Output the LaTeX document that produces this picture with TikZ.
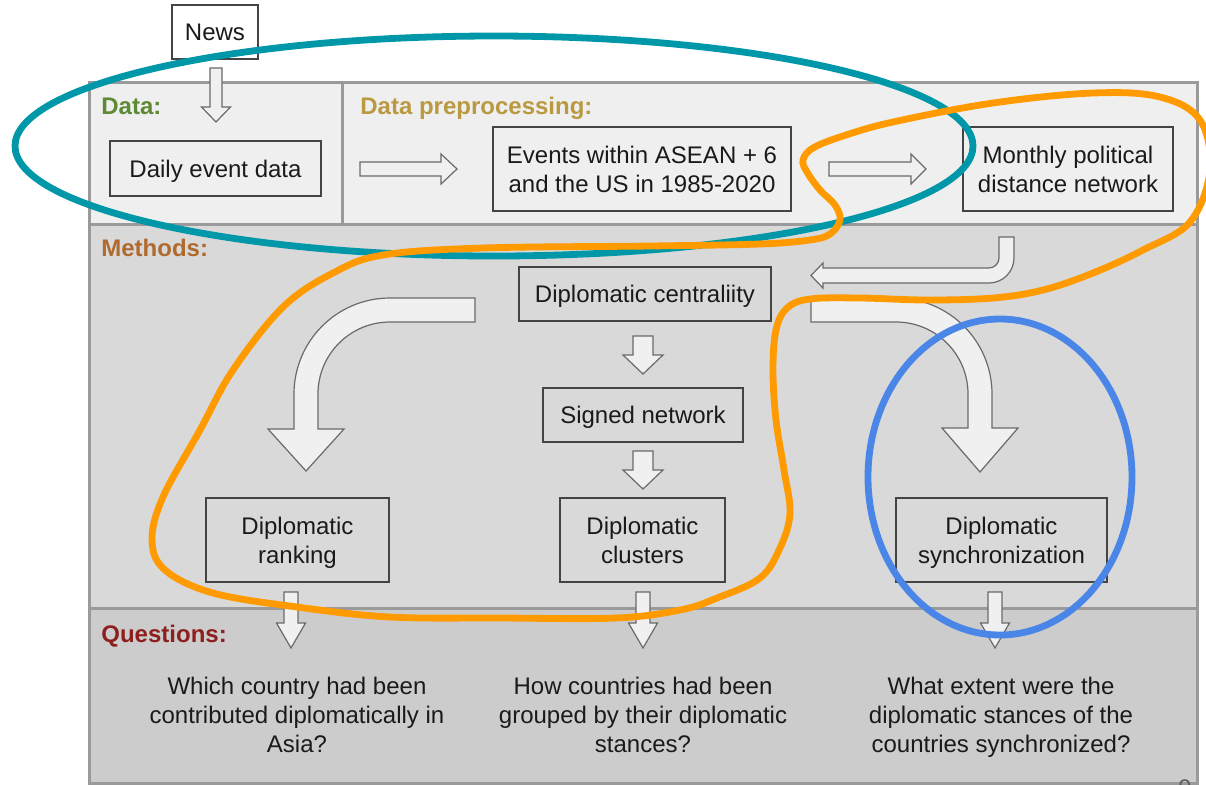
\documentclass[tikz,border=0pt]{standalone}
\usepackage{fontspec}
\setmainfont{Liberation Sans}
\definecolor{panelline}{HTML}{9A9A9A}
\definecolor{toppanel}{HTML}{EFEFEF}
\definecolor{midpanel}{HTML}{D9D9D9}
\definecolor{botpanel}{HTML}{CCCCCC}
\definecolor{boxline}{HTML}{444444}
\definecolor{txt}{HTML}{1A1A1A}
\definecolor{arrowline}{HTML}{6A6A6A}
\definecolor{arrowfill}{HTML}{F0F0F0}
\definecolor{datagreen}{HTML}{5E8A34}
\definecolor{prepgold}{HTML}{B99A40}
\definecolor{methbrown}{HTML}{B06A2E}
\definecolor{questred}{HTML}{8E1F1F}
\definecolor{annteal}{HTML}{0098A8}
\definecolor{annorange}{HTML}{FF9A00}
\definecolor{annblue}{HTML}{4A86E8}
\newcommand{\downblock}[6]{%
  \draw[blockarrow] (#1-#2,#3) -- (#1+#2,#3) -- (#1+#2,#4) -- (#1+#5,#4) -- (#1,#6) -- (#1-#5,#4) -- (#1-#2,#4) -- cycle;}
\begin{document}
\begin{tikzpicture}[x=0.5pt,y=-0.5pt,
  box/.style={draw=boxline, line width=0.75pt, inner sep=0pt, align=center, text=txt,
    font=\fontsize{12}{14.5}\selectfont},
  oneline/.style={text height=8.6pt, text depth=0pt},
  blockarrow/.style={draw=arrowline, fill=arrowfill, line width=0.6pt, line join=miter},
  panel/.style={draw=panelline, line width=1.5pt},
  heading/.style={font=\bfseries\fontsize{12}{14.5}\selectfont, anchor=base west, inner sep=0pt},
  qtext/.style={align=center, text=txt, inner sep=0pt, font=\fontsize{12}{14.4}\selectfont},
  ann/.style={line width=3.4pt, line cap=round, line join=round}]
\useasboundingbox (0,0) rectangle (1206,784);
\clip (0,0) rectangle (1206,784);
\fill[white] (0,0) rectangle (1206,784);

% panels
\fill[toppanel] (89,82) rectangle (1197,224);
\fill[midpanel] (89,224) rectangle (1197,608);
\fill[botpanel] (89,608) rectangle (1197,783);
\draw[panel] (89,82) rectangle (1197,783);
\draw[panel] (89,224) -- (1197,224);
\draw[panel] (89,608) -- (1197,608);
\draw[panel] (342,82) -- (342,224);

% headings
\node[heading, text=datagreen] (hdata) at (101,114) {Data:};
\node[heading, text=prepgold] (hprep) at (360,114) {Data preprocessing:};
\node[heading, text=methbrown] (hmeth) at (101,256) {Methods:};
\node[heading, text=questred] (hquest) at (101,642) {Questions:};

% boxes
\node[box, oneline, fill=white, minimum width=43pt, minimum height=27pt] (news) at (215,32) {News};
\node[box, oneline, minimum width=105.5pt, minimum height=27.5pt] (daily) at (215.5,168.5) {Daily event data};
\node[box, minimum width=149pt, minimum height=42pt] (events) at (642,169) {Events within ASEAN + 6\\\smash{and the US in 1985-2020}};
\node[box, minimum width=105pt, minimum height=42pt] (monthly) at (1068,169) {Monthly political\\\smash{distance network}};
\node[box, oneline, minimum width=126pt, minimum height=27pt] (cent) at (645,294) {Diplomatic centraliity};
\node[box, oneline, minimum width=100pt, minimum height=27pt] (signed) at (643,415) {Signed network};
\node[box, minimum width=82.5pt, minimum height=42pt] (clusters) at (642.5,540) {Diplomatic\\\smash{clusters}};
\node[box, minimum width=91.5pt, minimum height=42pt] (ranking) at (297.5,540) {Diplomatic\\\smash{ranking}};
\node[box, minimum width=105.5pt, minimum height=42pt] (sync) at (1001.5,540) {Diplomatic\\\smash{synchronization}};

% questions
\node[qtext] (q1) at (297,715) {Which country had been\\contributed diplomatically in\\\smash{Asia?}};
\node[qtext] (q2) at (643,715) {How countries had been\\grouped by their diplomatic\\\smash{stances?}};
\node[qtext] (q3) at (1001,715) {What extent were the\\diplomatic stances of the\\\smash{countries synchronized?}};
\node[text=txt!70, inner sep=0pt, anchor=base, font=\fontsize{12}{14}\selectfont] (pagenum) at (1185,796) {9};

% straight block arrows
\downblock{216}{6}{68}{107}{14.5}{122}
\downblock{643}{10}{336}{355}{20}{374}
\downblock{643}{10}{451}{470}{20}{489}
\downblock{291}{7}{592}{623}{14.5}{648}
\downblock{643}{7}{592}{623}{14.5}{648}
\downblock{995}{7}{592}{623}{14.5}{648}
\draw[blockarrow] (360,162) -- (441,162) -- (441,154) -- (457,169) -- (441,184) -- (441,176) -- (360,176) -- cycle;
\draw[blockarrow] (829,162) -- (911,162) -- (911,154) -- (926,169) -- (911,184) -- (911,176) -- (829,176) -- cycle;

% curved arrow monthly -> centrality
\draw[blockarrow] (999,237) -- (1014,237) -- (1014,258)
  .. controls (1014,271.8) and (1002.8,283) .. (989,283)
  -- (823,283) -- (823,288) -- (811,275.5) -- (823,263) -- (823,268) -- (989,268)
  .. controls (994.5,268) and (999,263.5) .. (999,258) -- cycle;

% big curved arrow to ranking
\draw[blockarrow] (475,298) -- (390,298)
  .. controls (337,298) and (294,341) .. (294,394)
  -- (294,429) -- (268,429) -- (306,471) -- (344,429) -- (318,429) -- (318,394)
  .. controls (318,354.2) and (350.2,322) .. (390,322) -- (475,322) -- cycle;

% big curved arrow to synchronization
\draw[blockarrow] (811,298) -- (896,298)
  .. controls (949,298) and (992,341) .. (992,394)
  -- (992,428) -- (1018,428) -- (980,472) -- (942,428) -- (968,428) -- (968,394)
  .. controls (968,354.2) and (935.8,322) .. (896,322) -- (811,322) -- cycle;

% annotations
\draw[ann, annteal] (494,146) ellipse [x radius=239.5pt, y radius=55pt];
\draw[ann, annorange] plot[smooth cycle, tension=0.6] coordinates {
  (813,148) (843,136) (893,122) (993,103) (1093,93) (1160,97) (1200,120) (1210,170)
  (1190,222) (1143,250) (1093,273) (1043,290) (993,298) (927,300) (860,298) (810,299)
  (787,308) (776,330) (773,370) (776,420) (784,470) (790,513) (780,548) (760,578)
  (717,598) (680,610) (616,618) (500,618) (390,617) (297,607) (213,593) (165,570)
  (152,540) (163,497) (200,430) (233,370) (283,307) (333,273) (383,255) (483,248)
  (650,246) (760,244) (810,240) (830,234) (840,220) (835,205) (820,190) (807,172)
  (803,160)};
\draw[ann, annblue] (1000,477) ellipse [x radius=66pt, y radius=79pt];
\end{tikzpicture}
\end{document}
